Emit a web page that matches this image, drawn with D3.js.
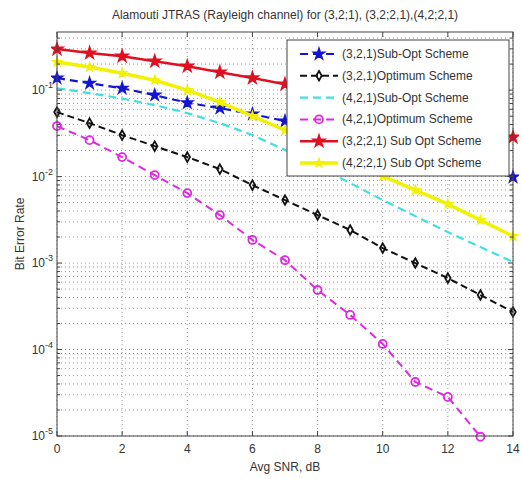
<!DOCTYPE html>
<html>
<head>
<meta charset="utf-8">
<script src="https://cdn.jsdelivr.net/npm/d3@7"></script>
<style>
  body { margin: 0; background: #fff; }
  text { font-family: "Liberation Sans", Arial, sans-serif; fill: #333; }
</style>
</head>
<body>
<div id="chart"></div>
<script>
// SNR points (dB)
var snr = [0, 1, 2, 3, 4, 5, 6, 7, 8, 9, 10, 11, 12, 13, 14];

// BER values
var ber321SubOpt = [0.138, 0.120, 0.105, 0.0875, 0.0713, 0.0619, 0.0528, 0.0438, 0.0364, 0.0302, 0.0244, 0.0197, 0.0159, 0.0125, 0.00987];
var ber321Opt = [0.0557, 0.0415, 0.0302, 0.0225, 0.0168, 0.0122, 0.00797, 0.00535, 0.00359, 0.00241, 0.00149, 0.001, 0.00067, 0.000427, 0.000272];
var ber421SubOpt = [0.105, 0.0923, 0.0798, 0.0671, 0.0542, 0.0415, 0.0302, 0.0203, 0.0132, 0.0084, 0.00535, 0.00349, 0.00228, 0.00153, 0.00103];
var ber421Opt = [0.0384, 0.0264, 0.0168, 0.0104, 0.00644, 0.00359, 0.00185, 0.00108, 0.000488, 0.000251, 0.000116, 0.0000421, 0.0000283, 0.0000098];
var ber3221SubOpt = [0.298, 0.268, 0.247, 0.216, 0.189, 0.161, 0.138, 0.117, 0.0988, 0.0819, 0.068, 0.0557, 0.045, 0.0359, 0.0286];
var ber4221SubOpt = [0.211, 0.185, 0.157, 0.130, 0.1, 0.0726, 0.050, 0.0345, 0.0231, 0.0151, 0.0101, 0.00698, 0.00481, 0.00314, 0.00205];

var seriesNames = ["(3,2,1)Sub-Opt Scheme", "(3,2,1)Optimum Scheme", "(4,2,1)Sub-Opt Scheme",
    "(4,2,1)Optimum Scheme", "(3,2;2,1) Sub Opt Scheme", "(4,2;2,1) Sub Opt Scheme"];
var seriesValues = [ber321SubOpt, ber321Opt, ber421SubOpt, ber421Opt, ber3221SubOpt, ber4221SubOpt];

var xTicks = [0, 2, 4, 6, 8, 10, 12, 14];
var yDecades = [-5, -4, -3, -2, -1];

// look of each series
var styles = [
    { color: "#1414d2", width: 2.2, dash: "8,5", marker: "star", size: 38 },
    { color: "#111111", width: 2, dash: "7,4", marker: "diamond", size: 26 },
    { color: "#40e0e0", width: 2.2, dash: "8,5", marker: null },
    { color: "#e028e0", width: 2, dash: "8,5", marker: "circle", size: 4 },
    { color: "#e01020", width: 2.5, dash: null, marker: "star", size: 44 },
    { color: "#f2f200", width: 3.5, dash: null, marker: "star", size: 22 }
];

var width = 522, height = 479;
var margin = { top: 32, right: 9, bottom: 43, left: 57 };
var plotW = width - margin.left - margin.right,
    plotH = height - margin.top - margin.bottom;

var svg = d3.select("#chart").append("svg")
    .attr("width", width)
    .attr("height", height);

var xScale = d3.scaleLinear().domain([0, 14]).range([0, plotW]);
var yScale = d3.scaleLog().domain([1e-5, 0.47]).range([plotH, 0]);

var g = svg.append("g")
    .attr("transform", "translate(" + margin.left + "," + margin.top + ")");

// minor log ticks
var yMinor = [];
yDecades.forEach(function(e) {
    for (var k = 1; k <= 9; k++) {
        var v = k * Math.pow(10, e);
        if (v <= 0.47) yMinor.push(v);
    }
});
function isDecade(d) { return Math.abs(Math.log10(d) - Math.round(Math.log10(d))) < 1e-6; }

// grid
g.selectAll(".ygrid").data(yMinor).enter().append("line")
    .attr("x1", 0).attr("x2", plotW)
    .attr("y1", d => yScale(d)).attr("y2", d => yScale(d))
    .attr("stroke", "#999").attr("stroke-width", 1)
    .attr("stroke-dasharray", "1,3");

g.selectAll(".xgrid").data(xTicks).enter().append("line")
    .attr("x1", d => xScale(d)).attr("x2", d => xScale(d))
    .attr("y1", 0).attr("y2", plotH)
    .attr("stroke", "#999").attr("stroke-width", 1)
    .attr("stroke-dasharray", "1,3");

// clip for lines
svg.append("clipPath").attr("id", "clip")
    .append("rect").attr("x", -6).attr("width", plotW + 12).attr("height", plotH + 6);

var plotArea = g.append("g").attr("clip-path", "url(#clip)");

var line = d3.line()
    .x((d, i) => xScale(snr[i]))
    .y(d => yScale(d));

function drawMarker(sel, st) {
    if (st.marker === "circle") {
        sel.append("circle").attr("r", st.size)
            .attr("fill", "none")
            .attr("stroke", st.color).attr("stroke-width", 1.8);
    } else if (st.marker === "diamond") {
        sel.append("path")
            .attr("d", d3.symbol().type(d3.symbolDiamond).size(st.size)())
            .attr("fill", "none")
            .attr("stroke", st.color).attr("stroke-width", 1.8);
    } else if (st.marker === "star") {
        sel.append("path")
            .attr("d", d3.symbol().type(d3.symbolStar).size(st.size)())
            .attr("fill", st.color)
            .attr("stroke", st.color).attr("stroke-width", 1.5);
    }
}

seriesValues.forEach(function(vals, s) {
    var st = styles[s];
    plotArea.append("path")
        .datum(vals)
        .attr("fill", "none")
        .attr("stroke", st.color)
        .attr("stroke-width", st.width)
        .attr("stroke-dasharray", st.dash)
        .attr("d", line);

    if (st.marker) {
        plotArea.selectAll(".m" + s).data(vals).enter().append("g")
            .attr("transform", (d, i) => "translate(" + xScale(snr[i]) + "," + yScale(d) + ")")
            .each(function() { drawMarker(d3.select(this), st); });
    }
});

// axes box and inward ticks
var axisColor = "#444";
g.append("rect")
    .attr("width", plotW).attr("height", plotH)
    .attr("fill", "none").attr("stroke", axisColor).attr("stroke-width", 1);

g.selectAll(".xtb").data(xTicks).enter().append("line")
    .attr("x1", d => xScale(d)).attr("x2", d => xScale(d))
    .attr("y1", plotH).attr("y2", plotH - 5)
    .attr("stroke", axisColor);
g.selectAll(".xtt").data(xTicks).enter().append("line")
    .attr("x1", d => xScale(d)).attr("x2", d => xScale(d))
    .attr("y1", 0).attr("y2", 5)
    .attr("stroke", axisColor);

g.selectAll(".ytl").data(yMinor).enter().append("line")
    .attr("x1", 0).attr("x2", d => isDecade(d) ? 5 : 3)
    .attr("y1", d => yScale(d)).attr("y2", d => yScale(d))
    .attr("stroke", axisColor);
g.selectAll(".ytr").data(yMinor).enter().append("line")
    .attr("x1", plotW).attr("x2", d => plotW - (isDecade(d) ? 5 : 3))
    .attr("y1", d => yScale(d)).attr("y2", d => yScale(d))
    .attr("stroke", axisColor);

// tick labels
g.selectAll(".xl").data(xTicks).enter().append("text")
    .attr("x", d => xScale(d))
    .attr("y", plotH + 17)
    .attr("text-anchor", "middle")
    .style("font-size", "12px")
    .text(d => d);

var yl = g.selectAll(".yl").data(yDecades).enter().append("text")
    .attr("x", -4)
    .attr("y", d => yScale(Math.pow(10, d)) + 4)
    .attr("text-anchor", "end")
    .style("font-size", "12px");
yl.append("tspan").text("10");
yl.append("tspan")
    .attr("dy", -6)
    .style("font-size", "9px")
    .text(d => d);

// axis labels and title
svg.append("text")
    .attr("x", margin.left + plotW / 2)
    .attr("y", height - 8)
    .attr("text-anchor", "middle")
    .style("font-size", "12px")
    .text("Avg SNR, dB");

svg.append("text")
    .attr("transform", "rotate(-90)")
    .attr("x", -(margin.top + plotH / 2))
    .attr("y", 24)
    .attr("text-anchor", "middle")
    .style("font-size", "12px")
    .text("Bit Error Rate");

svg.append("text")
    .attr("x", margin.left + plotW / 2)
    .attr("y", 19)
    .attr("text-anchor", "middle")
    .style("font-size", "12px")
    .text("Alamouti JTRAS (Rayleigh channel) for (3,2;1), (3,2;2,1),(4,2;2,1)");

// legend
var legend = svg.append("g").attr("transform", "translate(287,40)");
legend.append("rect")
    .attr("width", 222).attr("height", 136)
    .attr("fill", "#fff").attr("stroke", axisColor).attr("stroke-width", 1);

seriesNames.forEach(function(name, s) {
    var st = styles[s];
    var row = legend.append("g").attr("transform", "translate(0," + (14 + s * 21.8) + ")");
    row.append("line")
        .attr("x1", 13).attr("x2", 51)
        .attr("stroke", st.color).attr("stroke-width", st.width)
        .attr("stroke-dasharray", st.dash);
    if (st.marker) {
        var mk = row.append("g").attr("transform", "translate(32,0)");
        drawMarker(mk, st);
    }
    row.append("text")
        .attr("x", 55).attr("y", 4)
        .style("font-size", "12px")
        .text(name);
});
</script>
</body>
</html>
